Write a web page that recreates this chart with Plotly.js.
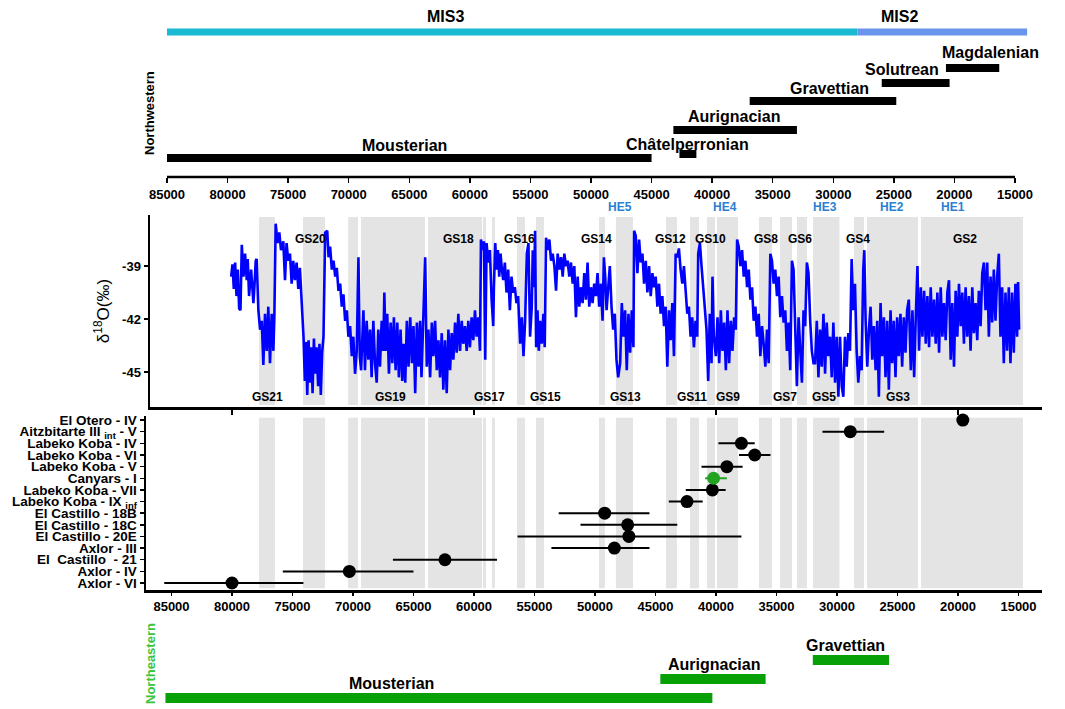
<!DOCTYPE html>
<html>
<head>
<meta charset="utf-8">
<script src="https://cdn.plot.ly/plotly-3.0.1.min.js"></script>
<style>html,body{margin:0;padding:0;background:#fff}#chart{width:1065px;height:709px}</style>
</head>
<body>
<div id="chart"></div>
<script>
// ---------------- DATA ----------------
// Marine isotope stages (years BP)
const misNames = ['MIS3', 'MIS2'];
const misStart = [85000, 28000];
const misEnd = [28000, 14000];
const misLabelAge = [62000, 24500];

// Northwestern cultures (years BP)
const nwCultures = ['Mousterian', 'Châtelperronian', 'Aurignacian', 'Gravettian', 'Solutrean', 'Magdalenian'];
const nwStart = [85000, 42700, 43200, 36900, 26000, 20700];
const nwEnd = [45000, 41300, 33000, 24800, 20400, 16300];
const nwLabelAge = [65400, 42000, 38200, 30300, 24300, 17000];

// Northeastern cultures (years BP)
const neCultures = ['Mousterian', 'Aurignacian', 'Gravettian'];
const neStart = [85500, 44600, 32000];
const neEnd = [40300, 35900, 25700];
const neLabelAge = [66800, 40200, 29300];

// Greenland stadials (grey bands, years BP)
const gsOld = [77760, 74130, 70400, 69340, 63800, 59260, 58510, 56450, 54880, 49670, 48270, 44130, 42150, 40750, 39920, 36450, 34710, 33310, 31980, 28600, 27520, 23060];
const gsYoung = [76450, 72310, 69590, 64050, 59340, 59010, 58270, 55790, 54220, 49180, 46860, 43230, 41410, 40080, 38180, 35370, 33720, 32480, 29800, 27770, 23310, 14630];
const gsLabel = ['GS21', 'GS20', 'GS19', 'GS18', 'GS17', 'GS16', 'GS15', 'GS14', 'GS13', 'GS12', 'GS11', 'GS10', 'GS9', 'GS8', 'GS7', 'GS6', 'GS5', 'GS4', 'GS3', 'GS2'];
const gsLabelAge = [77030, 73550, 66940, 61320, 58680, 56200, 54130, 49840, 47520, 43800, 41980, 40420, 39010, 35870, 34300, 33070, 31080, 28270, 24960, 19420];

// Heinrich events
const heLabel = ['HE5', 'HE4', 'HE3', 'HE2', 'HE1'];
const heAge = [47930, 39260, 31000, 25460, 20420];

// d18O record (age BP, per mil)
const isoAge = [
80070,79960,79850,79740,79630,79520,79410,79300,79190,79050,78920,78780,78700,78590,78420,78230,78150,78040,77960,77900,
77820,77680,77540,77410,77270,77130,77000,76860,76720,76580,76500,76390,76230,76090,75950,75760,75620,75490,75350,75210,
75070,74940,74800,74660,74520,74390,74300,74200,74090,73980,73890,73780,73670,73560,73450,73340,73230,73120,73010,72880,
72770,72660,72550,72440,72300,72130,72020,71890,71750,71610,71470,71340,71200,71060,70930,70790,70650,70510,70380,70240,
70100,69970,69830,69690,69550,69440,69330,69140,69010,68870,68730,68590,68460,68320,68180,68040,67910,67770,67630,67500,
67410,67300,67170,67030,66890,66750,66620,66480,66340,66210,66070,65930,65820,65680,65550,65410,65270,65130,65000,64860,
64720,64580,64450,64340,64200,
64035,63905,63765,63625,63485,63355,63215,63075,62940,62805,62665,62535,62395,62255,62115,61975,61845,61705,61565,61430,
61295,61155,61015,60885,60745,60605,60470,60335,60195,60055,59920,59785,59645,59505,59425,59285,59180,59070,58960,58825,
58685,58545,58410,58355,58245,58135,58025,57915,57805,57695,57585,57450,57315,57175,57035,56900,56765,56625,56490,56355,
56185,56045,55910,55775,55635,55500,55365,55225,55145,55035,54950,54865,54755,54645,54535,54400,54265,54155,54045,53905,
53770,53635,53495,53355,53220,53085,52945,52805,52670,52535,52395,52260,52125,51985,51845,51710,51575,51435,51300,51165,
51025,50885,50750,50615,50475,50335,50200,50065,49925,49790,49655,49515,49375,49265,49155,49045,48910,48775,48635,48500,
48365,48225,48085,
47920,47785,47645,47510,47375,47235,47095,46960,46825,46765,46630,46495,46355,46220,46080,45945,45805,45670,45530,45395,
45255,45120,44985,44845,44710,44575,44435,44295,44160,44025,43885,43750,43610,43475,43335,43200,43065,42925,42785,42650,
42515,42375,42240,42100,41965,41825,41690,41550,41470,41330,41195,41055,40920,40785,40645,40510,40370,40290,40180,40015,
39875,39735,39600,39465,39325,39185,39050,38915,38775,38640,38500,38365,38255,38120,37980,37845,37705,37570,37430,37295,
37155,37020,36885,36745,36610,36470,36335,36195,36060,35920,35785,35645,35510,35375,35235,35100,34960,34825,34685,34550,
34410,34275,34140,34000,33865,33725,33590,33450,33315,33175,33040,32900,32765,32630,32490,32355,32215,32080,31940,
31810,31670,31535,31395,31260,31120,30985,30850,30710,30570,30435,30300,30160,30025,29885,29750,29610,29475,29340,29200,
29065,28925,28790,28650,28515,28375,28240,28100,27965,27830,27745,27635,27500,27360,27225,27085,26950,26810,26675,26540,
26400,26265,26125,25990,25850,25715,25575,25440,25305,25165,25030,24890,24755,24615,24480,24340,24205,24065,23900,23765,
23625,23490,23350,23215,23075,22940,22800,22665,22530,22390,22255,22115,21980,21840,21705,21565,21430,21290,21155,21020,
20880,20745,20605,20470,20330,20195,20055,19920,19780,19645,19510,19370,19235,19095,18960,18820,18685,18545,18410,18275,
18135,17995,17860,17725,17585,17450,17310,17175,17040,16900,16765,16625,16490,16350,16215,16075,15940,15800,15665,15530,
15390,15255,15115,15035,14950
];
const isoD18O = [
-39.6,-38.9,-40.3,-38.8,-40.7,-39.2,-41.4,-41.5,-37.8,-39.6,-38.3,-39.8,-38.6,-40.7,-39.2,-41.1,-40.2,-38.7,-38.6,-39.6,
-41.5,-42.6,-42.1,-44.6,-41.7,-43.8,-41.3,-44.5,-41.7,-43.8,-41.9,-36.6,-37.7,-37.1,-38.1,-37.6,-39.8,-37.7,-38.7,-38.3,
-40.0,-38.7,-39.8,-38.8,-40.3,-39.1,-40.4,-41.9,-43.0,-45.5,-43.3,-46.3,-43.2,-45.6,-43.6,-46.2,-43.1,-45.1,-43.6,-45.8,
-43.4,-46.3,-43.9,-43.0,-37.1,-37.0,-38.5,-37.9,-39.2,-38.7,-39.6,-39.1,-40.4,-40.0,-41.3,-40.6,-42.1,-41.5,-43.0,-42.4,
-44.1,-43.0,-45.1,-43.8,-38.5,-44.1,-44.9,-41.5,-44.9,-42.1,-44.3,-42.6,-45.3,-42.1,-44.5,-45.6,-42.6,-44.7,-42.1,-43.8,
-40.5,-43.8,-41.7,-45.1,-42.2,-44.5,-41.9,-44.9,-42.2,-45.3,-42.6,-45.5,-43.4,-45.6,-42.1,-44.7,-41.9,-44.5,-42.4,-46.2,
-42.2,-44.7,-42.1,-45.3,-42.6,
-38.5,-44.7,-42.6,-45.3,-42.2,-44.1,-42.1,-44.9,-43.2,-45.3,-42.8,-46.0,-43.2,-46.2,-42.6,-44.9,-42.8,-44.3,-42.2,-43.9,
-41.7,-43.8,-42.1,-43.4,-42.4,-43.8,-42.1,-43.6,-41.9,-43.2,-41.5,-43.0,-41.9,-43.8,-37.5,-38.1,-37.6,-44.3,-37.7,-38.8,
-38.1,-40.9,-42.4,-40.2,-37.7,-39.2,-38.1,-39.6,-38.3,-39.2,-39.8,-38.8,-40.5,-39.2,-41.5,-39.6,-40.5,-40.2,-41.1,-40.7,
-43.4,-41.9,-44.1,-42.1,-38.3,-37.7,-43.0,-41.3,-38.1,-40.2,-37.0,-43.6,-41.5,-43.8,-42.1,-43.4,-41.7,-43.6,-37.4,-38.1,
-37.5,-38.7,-38.3,-39.0,-40.4,-38.3,-39.2,-38.5,-39.6,-38.3,-39.0,-38.7,-39.6,-38.8,-40.0,-39.0,-41.9,-39.6,-41.3,-40.2,
-41.1,-39.4,-40.9,-38.8,-41.3,-40.2,-41.1,-40.0,-40.7,-39.4,-41.3,-40.0,-42.1,-38.5,-39.6,-41.5,-40.2,-39.0,-41.3,-42.6,
-41.7,-44.3,-45.3,
-44.5,-41.1,-43.0,-41.5,-44.9,-41.7,-43.9,-41.5,-43.6,-37.0,-37.3,-39.4,-37.5,-38.8,-38.3,-40.0,-38.7,-40.5,-39.0,-40.7,
-39.4,-40.2,-39.6,-41.3,-40.0,-41.7,-40.7,-42.4,-41.3,-44.7,-41.5,-43.2,-41.1,-44.1,-38.3,-38.5,-38.0,-39.2,-40.0,-39.0,
-40.7,-41.7,-41.3,-43.0,-41.9,-43.6,-42.1,-43.0,-38.3,-37.7,-39.0,-40.2,-41.7,-42.6,-45.5,-41.7,-44.5,-39.6,-43.0,-44.1,
-41.9,-44.5,-41.5,-43.8,-42.2,-44.9,-41.5,-44.5,-42.1,-43.8,-41.9,-42.6,-37.5,-37.9,-39.0,-38.1,-39.6,-38.7,-40.2,-39.2,
-40.9,-40.2,-42.1,-41.3,-43.0,-41.7,-44.1,-42.4,-43.4,-44.7,-42.6,-44.5,-38.3,-38.7,-40.0,-39.2,-40.7,-39.6,-41.9,-40.7,
-42.2,-41.5,-43.8,-42.2,-44.9,-38.7,-39.2,-43.4,-45.8,-41.9,-44.1,-45.6,-41.5,-42.4,-38.8,-39.4,-42.1,-43.8,-44.5,
-44.5,-42.1,-45.3,-42.6,-44.7,-41.7,-45.1,-42.2,-44.1,-43.0,-45.3,-42.2,-45.6,-43.0,-46.4,-43.0,-45.8,-46.4,-43.0,-44.7,
-42.8,-43.8,-38.6,-41.5,-40.0,-43.8,-45.6,-44.1,-44.9,-39.2,-38.1,-42.1,-44.7,-42.6,-41.3,-44.3,-42.4,-44.9,-42.1,-46.4,
-41.1,-44.1,-41.9,-45.3,-42.1,-46.0,-41.5,-44.5,-42.1,-45.3,-41.9,-44.1,-41.7,-44.7,-41.9,-43.9,-41.5,-40.9,-44.9,-41.5,
-45.3,-41.9,-39.0,-43.8,-40.2,-43.0,-40.4,-43.4,-40.7,-43.6,-40.2,-43.0,-40.9,-43.4,-40.5,-43.9,-40.2,-43.0,-41.1,-43.2,
-40.5,-39.8,-44.3,-41.1,-44.7,-40.4,-43.0,-40.0,-42.4,-40.5,-43.4,-40.2,-43.0,-40.7,-43.8,-40.2,-42.8,-41.1,-43.2,-40.4,
-42.4,-39.4,-38.8,-41.5,-38.8,-43.0,-39.6,-42.2,-39.2,-42.1,-39.6,-38.3,-43.0,-40.2,-44.5,-40.5,-43.8,-40.2,-44.5,-40.5,
-43.9,-40.0,-43.0,-39.9,-42.6
];

// Dated levels (top to bottom), ages BP with range
const siteNames = ['El Otero - IV', 'Aitzbitarte III <sub>int</sub> - V', 'Labeko Koba - IV', 'Labeko Koba - VI', 'Labeko Koba - V',
  'Canyars - I', 'Labeko Koba - VII', 'Labeko Koba - IX <sub>inf</sub>', 'El Castillo - 18B', 'El Castillo - 18C',
  'El Castillo - 20E', 'Axlor - III', 'El\u00a0 Castillo\u00a0 - 21', 'Axlor - IV', 'Axlor - VI'];
const siteAge = [19600, 28900, 37900, 36800, 39100, 40200, 40300, 42400, 49200, 47300, 47200, 48400, 62400, 70300, 80000];
const siteOld = [19600, 31200, 39800, 38100, 41200, 40900, 42500, 43900, 53000, 51200, 56400, 53600, 66700, 75800, 85600];
const siteYoung = [19600, 26100, 36800, 35500, 37800, 39100, 39200, 41100, 45500, 43200, 37900, 45500, 58100, 65000, 74100];
const siteRegion = ['NW', 'NW', 'NW', 'NW', 'NW', 'NE', 'NW', 'NW', 'NW', 'NW', 'NW', 'NW', 'NW', 'NW', 'NW'];

const topTicks = [85000, 80000, 75000, 70000, 65000, 60000, 55000, 50000, 45000, 40000, 35000, 30000, 25000, 20000, 15000];
const midTicks = [80000, 60000, 40000, 20000];
const isoTicks = [-39, -42, -45];

// ---------------- LAYOUT HELPERS ----------------
const W = 1065, H = 709;
const PX = p => p / W;
const PY = p => 1 - p / H;
function rangeFor(pxL, pxR, refYr, refPx, k) { return [refYr + (refPx - pxL) / k, refYr - (pxR - refPx) / k]; }
const kTop = 848 / 70000, kLow = 0.0121;
const FONT = 'Liberation Sans, Arial, sans-serif';
const bold = (size, color) => ({family: FONT, size: size, color: color || '#000', weight: 'bold'});

// lanes (pixel rows) for the timeline bars
const misLane = 32;
const nwLane = [158, 154, 130, 101, 83, 68];
const neLane = [698, 679, 660];

const traces = [];
const ann = [];
const shapes = [];

// MIS bars
const misColors = ['#19b9d2', '#6a95ec'];
misNames.forEach((n, i) => {
  traces.push({x: [misStart[i], misEnd[i]], y: [misLane, misLane], xaxis: 'x', yaxis: 'y', mode: 'lines',
    line: {color: misColors[i], width: 7}, hoverinfo: 'skip'});
  ann.push({x: misLabelAge[i], xref: 'x', y: PY(17), yref: 'paper', text: n, showarrow: false, font: bold(16), yanchor: 'middle'});
});
// NW cultures
nwCultures.forEach((n, i) => {
  traces.push({x: [nwStart[i], nwEnd[i]], y: [nwLane[i], nwLane[i]], xaxis: 'x', yaxis: 'y', mode: 'lines',
    line: {color: '#000', width: 8}, hoverinfo: 'skip'});
  const off = i === 1 ? 10 : (i === 5 ? 16 : 13);
  ann.push({x: nwLabelAge[i], xref: 'x', y: PY(nwLane[i] - off), yref: 'paper', text: n, showarrow: false, font: bold(16), yanchor: 'middle'});
});
// top axis line
shapes.push({type: 'line', xref: 'x', x0: topTicks[0], x1: topTicks[topTicks.length - 1], yref: 'paper', y0: PY(177), y1: PY(177),
  line: {color: '#000', width: 2.5}});
ann.push({x: PX(150), xref: 'paper', xanchor: 'center', y: PY(113), yref: 'paper', yanchor: 'middle', text: 'Northwestern',
  textangle: -90, showarrow: false, font: bold(13)});

// HE labels
heLabel.forEach((n, i) => ann.push({x: heAge[i], xref: 'x2', y: PY(207), yref: 'paper', text: n, showarrow: false,
  font: bold(12, '#2b80d2'), yanchor: 'middle'}));

// stadial bands on middle and lower panels
gsOld.forEach((o, i) => {
  ['x2', 'x3'].forEach((xr, j) => shapes.push({type: 'rect', layer: 'below', xref: xr, x0: o, x1: gsYoung[i],
    yref: (j === 0 ? 'y2' : 'y3') + ' domain', y0: 0.01, y1: 0.99, fillcolor: '#e4e4e4', line: {width: 0}}));
});
// GS labels
gsLabel.forEach((n, i) => {
  const num = parseInt(n.slice(2));
  ann.push({x: gsLabelAge[i], xref: 'x2', y: PY(num % 2 === 0 ? 239 : 397), yref: 'paper', text: n, showarrow: false,
    font: bold(12), yanchor: 'middle'});
});

// d18O curve
traces.push({x: isoAge, y: isoD18O, xaxis: 'x2', yaxis: 'y2', mode: 'lines', line: {color: '#0000ff', width: 2.6}, hoverinfo: 'skip'});

// dated levels
const nRows = siteNames.length;
const rowOf = i => nRows - 1 - i;
['NW', 'NE'].forEach(reg => {
  const idx = siteRegion.map((r, i) => r === reg ? i : -1).filter(i => i >= 0);
  const col = reg === 'NE' ? '#22a322' : '#000';
  traces.push({x: idx.map(i => siteAge[i]), y: idx.map(rowOf), xaxis: 'x3', yaxis: 'y3', mode: 'markers', cliponaxis: false,
    marker: {color: col, size: 13}, hoverinfo: 'skip',
    error_x: {type: 'data', symmetric: false, array: idx.map(i => siteOld[i] - siteAge[i]),
      arrayminus: idx.map(i => siteAge[i] - siteYoung[i]), color: col, thickness: 2, width: 0}});
});

// NE cultures
neCultures.forEach((n, i) => {
  traces.push({x: [neStart[i], neEnd[i]], y: [neLane[i], neLane[i]], xaxis: 'x4', yaxis: 'y4', mode: 'lines',
    line: {color: '#07a007', width: 10}, hoverinfo: 'skip'});
  ann.push({x: neLabelAge[i], xref: 'x4', y: PY(neLane[i] - 15), yref: 'paper', text: n, showarrow: false, font: bold(16), yanchor: 'middle'});
});
ann.push({x: PX(150), xref: 'paper', xanchor: 'center', y: PY(664), yref: 'paper', yanchor: 'middle', text: 'Northeastern',
  textangle: -90, showarrow: false, font: bold(13, '#3cc43c')});

const lowRange = rangeFor(146, 1042, 80000, 232, kLow);
const layout = {
  width: W, height: H, margin: {l: 0, r: 0, t: 0, b: 0}, showlegend: false,
  paper_bgcolor: '#fff', plot_bgcolor: 'rgba(0,0,0,0)',
  font: {family: FONT, color: '#000'},
  xaxis: {domain: [PX(150), PX(1045)], range: rangeFor(150, 1045, 85000, 167, kTop), anchor: 'y', showgrid: false, zeroline: false,
    showline: false, ticks: 'outside', ticklen: 5, tickwidth: 1.5, tickcolor: '#000', tickvals: topTicks, tickformat: 'd', tickfont: bold(13)},
  yaxis: {domain: [PY(177), 1], range: [177, 0], visible: false, fixedrange: true},
  xaxis2: {domain: [PX(150), PX(1042)], range: rangeFor(150, 1042, 80000, 232, kLow), anchor: 'y2', showgrid: false, zeroline: false,
    showline: true, linewidth: 2.5, linecolor: '#000', ticks: 'outside', ticklen: 5, tickwidth: 2, tickcolor: '#000',
    tickvals: midTicks, showticklabels: false},
  yaxis2: {domain: [PY(407), PY(215)], range: [-46.98, -36.11], anchor: 'x2', showgrid: false, zeroline: false,
    showline: true, linewidth: 2.5, linecolor: '#000', ticks: 'outside', ticklen: 4, tickwidth: 2, tickcolor: '#000',
    tickvals: isoTicks, ticktext: isoTicks.map(v => String(v)), tickfont: bold(13),
    title: {text: 'δ<sup>18</sup>O(‰)', font: {family: FONT, size: 17, color: '#000'}, standoff: 8}},
  xaxis3: {domain: [PX(146), PX(1042)], range: lowRange, anchor: 'y3', showgrid: false, zeroline: false,
    showline: true, linewidth: 2.5, linecolor: '#000', ticks: 'outside', ticklen: 3, tickwidth: 1.5, tickcolor: '#000',
    tickvals: topTicks, tickformat: 'd', tickfont: bold(13)},
  yaxis3: {domain: [PY(590), PY(416)], range: [-0.6, 14.35], anchor: 'x3', showgrid: false, zeroline: false,
    showline: true, linewidth: 2.5, linecolor: '#000', ticks: 'outside', ticklen: 4, tickwidth: 1.5, tickcolor: '#000',
    tickvals: siteNames.map((s, i) => rowOf(i)), ticktext: siteNames, tickfont: bold(13.5)},
  xaxis4: {domain: [PX(146), PX(1042)], range: lowRange, anchor: 'y4', visible: false},
  yaxis4: {domain: [0, PY(615)], range: [709, 615], anchor: 'x4', visible: false},
  shapes: shapes, annotations: ann
};
Plotly.newPlot('chart', traces, layout, {displayModeBar: false, staticPlot: true});
</script>
</body>
</html>
